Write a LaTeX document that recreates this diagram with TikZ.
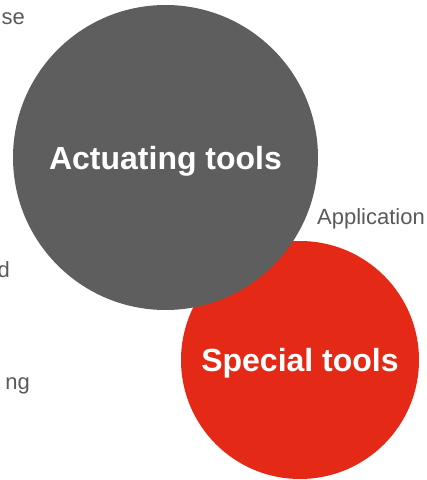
\documentclass[tikz,border=0pt]{standalone}
\usepackage{fontspec}
\setmainfont{Liberation Sans}
\usetikzlibrary{positioning}
\usepackage{xcolor}
\definecolor{toolgray}{HTML}{5E5E5E}
\definecolor{toolred}{HTML}{E42A16}
\definecolor{labelgray}{HTML}{595959}

\begin{document}
\begin{tikzpicture}[
        x=1pt, y=1pt,
        bigcircle/.style={circle, inner sep=0pt, text depth=0pt, text=white, font=\fontsize{32}{36}\selectfont\bfseries},
        sidelabel/.style={inner sep=0pt, text=labelgray, font=\fontsize{22}{24}\selectfont}
    ]
    \useasboundingbox (0,0) rectangle (427,480);

    % The Circles
    \node (special) [bigcircle, fill=toolred, minimum size=238pt] at (300,120) {Special tools};
    \node (actuating) [bigcircle, fill=toolgray, minimum size=305pt] at (165.5,322.5) {Actuating tools};

    % The Side Labels
    \node (application) [sidelabel, anchor=west] at (317,261) {Application};
    \node (labelse) [sidelabel, anchor=east] at (25,461) {se};
    \node (labeld) [sidelabel, anchor=east] at (10,210) {d};
    \node (labelng) [sidelabel, anchor=east] at (30,94) {ng};

\end{tikzpicture}
\end{document}
